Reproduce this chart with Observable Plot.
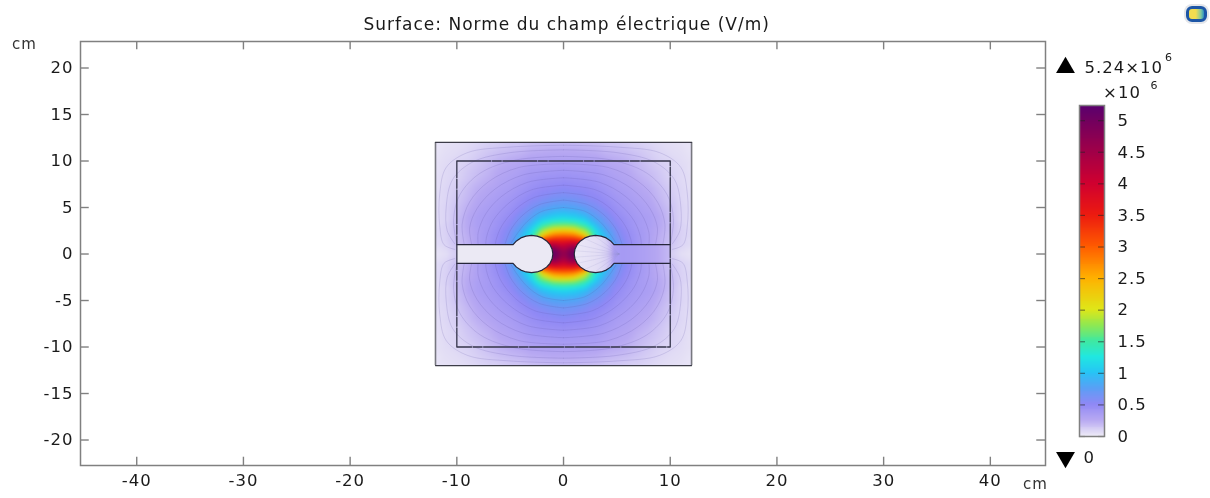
<!DOCTYPE html>
<html><head><meta charset="utf-8">
<script src="https://cdn.jsdelivr.net/npm/d3@7"></script>
<script src="https://cdn.jsdelivr.net/npm/@observablehq/plot@0.6"></script>
<style>
html,body{margin:0;padding:0;background:#fff}
#wrap{position:relative;width:1210px;height:498px;overflow:hidden;filter:blur(.35px)}
#wrap svg{position:absolute;top:0;background:transparent}
#wrap svg text{letter-spacing:1px}
#logo{position:absolute;left:1186px;top:6px;width:21px;height:16px;box-sizing:border-box;border-radius:6px;border:3px solid #1d56a6;background:linear-gradient(90deg,#f2dc50 0 45%,#7fc8a0 80%,#2c90c0);box-shadow:0 0 0 2px #e4e6ea}
</style></head><body>
<div id="wrap"><div id="logo"></div></div>
<script>
const title = "Surface: Norme du champ électrique (V/m)";
const xTicks = [-40,-30,-20,-10,0,10,20,30,40];
const yTicks = [-20,-15,-10,-5,0,5,10,15,20];
const barTicks = [0,0.5,1,1.5,2,2.5,3,3.5,4,4.5,5];
const colorStops = [0,.25,.5,.75,1,1.25,1.5,1.75,2,2.5,3,3.5,4,4.5,5,5.24];
const colorRange = ["#ece9f6","#b7a8f2","#8f88f5","#5a9ff5","#26c4f5","#20e8e0","#40e8a0","#90e850","#dfe618","#ffb000","#ff5a00","#ec1a10","#cf0030","#a00048","#70005f","#58006f"];

// Field norm (x10^6 V/m), one quadrant.
const gridY = [0,.5,1,1.5,2,2.5,3,3.5,4,5,6,7,8,9,10,11,12];
const gridX = [0,1,2,3,4,5,6,7,8,9,10,11,12];
const fieldColumns = [
 [4.6,4.4,4.0,3.5,2.9,2.3,1.75,1.35,1.1,.8,.62,.52,.44,.38,.31,.25,.17],
 [5.2,5.0,4.3,3.5,2.8,2.2,1.7,1.3,1.05,.78,.6,.5,.43,.37,.31,.25,.17],
 [4,4,4,3.2,2.2,1.8,1.45,1.15,.95,.7,.55,.48,.42,.36,.3,.24,.16],
 [1.3,1.3,1.3,1.3,1.25,1.15,1.0,.85,.75,.6,.5,.44,.39,.35,.29,.23,.15],
 [.9,.9,.9,.9,.9,.8,.72,.65,.6,.5,.44,.39,.35,.31,.26,.2,.13],
 [.7,.7,.7,.64,.6,.57,.53,.5,.47,.42,.38,.34,.31,.28,.24,.18,.12],
 [.5,.5,.5,.48,.47,.45,.43,.42,.4,.37,.34,.31,.28,.25,.21,.16,.1],
 [.42,.42,.4,.38,.38,.37,.36,.36,.35,.33,.3,.27,.23,.2,.17,.13,.09],
 [.32,.32,.31,.31,.31,.31,.32,.32,.32,.29,.26,.23,.19,.16,.13,.1,.07],
 [.2,.2,.22,.22,.23,.24,.25,.25,.25,.22,.19,.17,.14,.12,.09,.07,.05],
 [.1,.13,.15,.16,.16,.17,.17,.17,.16,.15,.13,.11,.09,.08,.07,.05,.04],
 [.04,.06,.08,.09,.09,.09,.09,.08,.08,.08,.07,.07,.06,.06,.05,.04,.03],
 [.02,.03,.05,.05,.06,.06,.05,.05,.05,.05,.05,.04,.04,.03,.03,.02,.02]
];
// Field inside the right electrode (x, value)
const rightInnerX = [1,2,3,3.5,4,4.4,4.8,5.5,6.5,7.5,8.5,10];
const rightInnerV = [.01,.02,.04,.06,.1,.18,.33,.36,.34,.31,.27,.18];
const rightInnerY = [-2.1,-1,0,1,2.1];

// Electrode outline, upper half, from bar end over the circle to its tip.
const electrodeX = [10,4.73,4.41,4,3.52,3,2.48,2,1.59,1.27,1.07,1];
const electrodeY = [1,1,1.41,1.73,1.93,2,1.93,1.73,1.41,1,.52,0];

const outerTopX = [-12,12], outerTopY = [12,12], outerBottomY = [-12,-12];
const outerSideX = [-12,12], outerSideY = [-12,12];
const innerBoxX = [-10,10,10,-10,-10], innerBoxY = [10,10,-10,-10,10];

// Field lines, one quadrant, [x,y] pairs.
const fieldLineQuadrant = [
 [[0,11.7],[5,11.5],[9,10.9],[11,9.3],[11.6,6.5],[11.6,3],[11.2,1],[10.2,.5]],
 [[0,11.2],[5,10.9],[8.5,9.9],[10.4,8],[11,5],[10.9,2.5],[10.2,1.1]],
 [[0,10.5],[4.5,10.1],[7.8,8.7],[9.7,6.4],[10.3,3.8],[10,1]],
 [[0,9.7],[4.2,9.3],[7,7.8],[8.8,5.6],[9.5,3.2],[9.3,1]],
 [[0,9],[3.8,8.5],[6.4,7],[8.1,4.9],[8.8,2.8],[8.6,1]],
 [[0,8.2],[3.4,7.7],[5.8,6.2],[7.3,4.3],[8,2.3],[8,1]],
 [[0,7.4],[3,6.9],[5.1,5.5],[6.6,3.6],[7.2,1.9],[7.3,1]],
 [[0,6.6],[2.7,6.1],[4.5,4.8],[5.8,3],[6.3,1.6],[6.4,1]],
 [[0,5.8],[2.3,5.3],[3.9,4.1],[5,2.5],[5.5,1]],
 [[0,5],[2,4.6],[3.4,3.5],[4.4,2.1],[4.9,1.2]]
];
const rayEnds = [[1.05,.35],[1.3,1],[1.9,1.7],[2.9,1.95],[3.8,1.8]];
const rayTip = [5.2,0];

const colorOpt = {type:"linear",domain:colorStops,range:colorRange,clamp:true};

const field = [];
fieldColumns.forEach((col,i)=>col.forEach((v,j)=>{
  for (const sx of gridX[i]?[1,-1]:[1]) for (const sy of gridY[j]?[1,-1]:[1])
    field.push({x:sx*gridX[i],y:sy*gridY[j],v});
}));
const inner = [];
rightInnerX.forEach((x,i)=>rightInnerY.forEach(y=>inner.push({x,y,v:rightInnerV[i]})));

const lines = [];
fieldLineQuadrant.forEach((l,k)=>{
  for (const sx of [1,-1]) for (const sy of [1,-1])
    l.forEach(p=>lines.push({x:sx*p[0],y:sy*p[1],id:k+"_"+sx+"_"+sy}));
});
const rays = [];
rayEnds.forEach((p,k)=>{ for (const sy of [1,-1]) {
  rays.push({x:p[0],y:sy*p[1],id:k+"_"+sy}); rays.push({x:rayTip[0],y:rayTip[1],id:k+"_"+sy});
}});

const n = electrodeX.length;
const right = [];
for (let i=0;i<n;i++) right.push({x:electrodeX[i],y:electrodeY[i]});
for (let i=n-2;i>=0;i--) right.push({x:electrodeX[i],y:-electrodeY[i]});
const left = right.map(p=>({x:-p.x,y:p.y}));

const toPts=(X,Y)=>X.map((x,i)=>({x,y:Y[i]}));

const clipToRight = (index,scales,values,dims,ctx,next)=>{
  const g = next(index,scales,values,dims,ctx);
  const d = "M"+right.map(p=>scales.x(p.x)+","+scales.y(p.y)).join("L")+"Z";
  const cp = d3.create("svg:clipPath").attr("id","rightClip");
  cp.append("path").attr("d",d);
  g.insertBefore(cp.node(),g.firstChild);
  g.setAttribute("clip-path","url(#rightClip)");
  return g;
};

const font = "DejaVu Sans, sans-serif";
const main = Plot.plot({
  width:1210,height:498,marginLeft:80,marginRight:165,marginTop:41,marginBottom:33,
  style:{fontFamily:font,fontSize:"16.5px",color:"#1a1a1a",background:"transparent",overflow:"visible"},
  x:{domain:[-45.27,45.17]},
  y:{domain:[-22.74,22.85]},
  color:colorOpt,
  marks:[
    Plot.raster(field,{x:"x",y:"y",fill:"v",x1:-12,x2:12,y1:-12,y2:12,interpolate:"barycentric",pixelSize:1,blur:1.5}),
    Plot.raster(inner,{x:"x",y:"y",fill:"v",x1:1,x2:10,y1:-2.1,y2:2.1,interpolate:"barycentric",pixelSize:1,render:clipToRight}),
    Plot.line(lines,{x:"x",y:"y",z:"id",curve:"catmull-rom",stroke:"#5d55a8",strokeOpacity:.26,strokeWidth:.7}),
    Plot.line(rays,{x:"x",y:"y",z:"id",stroke:"#8f8ac0",strokeOpacity:.25,strokeWidth:.6}),
    Plot.line(left,{x:"x",y:"y",fill:"#ebe9f4",stroke:"#26263a",strokeWidth:1.2}),
    Plot.line(right,{x:"x",y:"y",stroke:"#26263a",strokeWidth:1.2}),
    Plot.line(toPts(innerBoxX,innerBoxY),{x:"x",y:"y",stroke:"#34344a",strokeWidth:1.3,strokeDasharray:"34 1.5 9 1.5"}),
    Plot.ruleX(outerSideX,{y1:outerSideY[0],y2:outerSideY[1],stroke:"#77777f",strokeWidth:1.6}),
    Plot.line(toPts(outerTopX,outerTopY),{x:"x",y:"y",stroke:"#3c3c48",strokeWidth:1.1}),
    Plot.line(toPts(outerTopX,outerBottomY),{x:"x",y:"y",stroke:"#3c3c48",strokeWidth:1.1}),
    Plot.frame({stroke:"#808080",strokeWidth:1.5}),
    Plot.ruleX(xTicks,{y1:-22.74,y2:-21.85,stroke:"#808080",strokeWidth:1.4}),
    Plot.ruleX(xTicks,{y1:22.85,y2:21.95,stroke:"#808080",strokeWidth:1.4}),
    Plot.ruleY(yTicks,{x1:-45.27,x2:-44.45,stroke:"#808080",strokeWidth:1.4}),
    Plot.ruleY(yTicks,{x1:45.17,x2:44.35,stroke:"#808080",strokeWidth:1.4}),
    Plot.axisX({anchor:"bottom",ticks:xTicks,tickSize:0,tickPadding:9,label:null,tickFormat:d=>String(d),fontSize:16.5}),
    Plot.axisY({anchor:"left",ticks:yTicks,tickSize:0,tickPadding:7,label:null,tickFormat:d=>String(d),fontSize:16.5}),
    Plot.text([title],{x:[0.3],y:[24.7],text:d=>d,fontSize:17,fill:"#1a1a1a"}),
    Plot.text(["cm"],{x:[-51.7],y:[22.6],text:d=>d,textAnchor:"start",fontSize:15,fill:"#333"}),
    Plot.text(["cm"],{x:[45.4],y:[-24.8],text:d=>d,textAnchor:"end",fontSize:15,fill:"#333"})
  ]
});
main.style.left="0px";
document.getElementById("wrap").appendChild(main);

const steps = d3.range(0,5.24,0.015);
const bar = Plot.plot({
  width:165,height:498,marginLeft:34,marginRight:106,marginTop:105,marginBottom:62,
  style:{fontFamily:font,fontSize:"16.5px",color:"#1a1a1a",background:"transparent",overflow:"visible"},
  x:{domain:[0,1],axis:null},
  y:{domain:[0,5.24]},
  color:colorOpt,
  marks:[
    Plot.rectY(steps,{x1:0,x2:1,y1:d=>d,y2:d=>Math.min(d+0.015,5.24),fill:d=>d,shapeRendering:"crispEdges"}),
    Plot.ruleY(barTicks,{x1:0,x2:.24,stroke:"#222",strokeOpacity:.55,strokeWidth:1.2}),
    Plot.ruleY(barTicks,{x1:.76,x2:1,stroke:"#222",strokeOpacity:.55,strokeWidth:1.2}),
    Plot.frame({stroke:"#808080",strokeWidth:1.5}),
    Plot.axisY({anchor:"right",ticks:barTicks,tickSize:0,tickPadding:13,label:null,tickFormat:d=>String(d),fontSize:16.5}),
    Plot.dot([5.84],{x:[-.56],y:d=>d,symbol:"triangle",fill:"#000",r:7}),
    Plot.dot([-.33],{x:[-.56],y:d=>d,symbol:"triangle",fill:"#000",r:7,rotate:180}),
    Plot.text(["5.24×10"],{x:[.2],y:[5.84],text:d=>d,textAnchor:"start",fontSize:16.5}),
    Plot.text(["6"],{x:[3.58],y:[6.0],text:d=>d,fontSize:11}),
    Plot.text(["×10"],{x:[1.7],y:[5.44],text:d=>d,fontSize:16.5}),
    Plot.text(["6"],{x:[3.0],y:[5.56],text:d=>d,fontSize:11}),
    Plot.text(["0"],{x:[.16],y:[-.33],text:d=>d,textAnchor:"start",fontSize:16.5})
  ]
});
bar.style.left="1045px";
document.getElementById("wrap").appendChild(bar);
</script>
</body></html>
